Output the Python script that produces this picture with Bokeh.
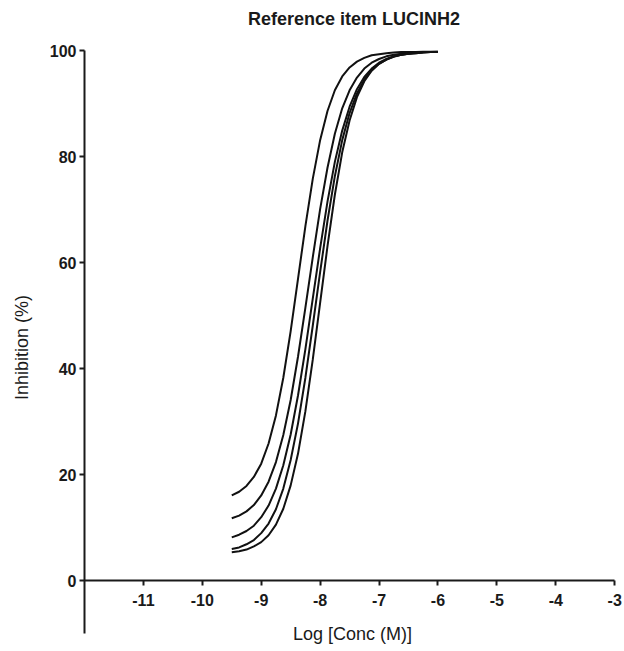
from bokeh.plotting import figure
from bokeh.models import FixedTicker, Range1d, Label, Title
from bokeh.embed import file_html
from bokeh.resources import INLINE

# ---- data ----
log_conc = [-9.5, -9.375, -9.25, -9.125, -9.0, -8.875, -8.75, -8.625, -8.5, -8.375,
            -8.25, -8.125, -8.0, -7.875, -7.75, -7.625, -7.5, -7.375, -7.25, -7.125,
            -7.0, -6.875, -6.75, -6.625, -6.5, -6.375, -6.25, -6.125, -6.0]
curve_1 = [16.1, 16.8, 17.9, 19.6, 22.1, 25.9, 31.2, 38.3, 47.1, 57.0,
           66.9, 75.8, 83.1, 88.6, 92.5, 95.1, 96.8, 97.9, 98.6, 99.1,
           99.3, 99.5, 99.6, 99.7, 99.7, 99.7, 99.8, 99.8, 99.8]
curve_2 = [11.8, 12.3, 13.1, 14.3, 16.1, 18.7, 22.4, 27.5, 34.1, 42.3,
           51.5, 61.0, 70.1, 77.9, 84.3, 89.1, 92.5, 94.9, 96.6, 97.7,
           98.4, 98.9, 99.2, 99.4, 99.6, 99.6, 99.7, 99.7, 99.8]
curve_3 = [8.2, 8.7, 9.4, 10.4, 12.0, 14.2, 17.4, 21.8, 27.6, 35.0,
           43.7, 53.2, 62.7, 71.5, 79.0, 84.9, 89.4, 92.7, 95.0, 96.6,
           97.7, 98.4, 98.9, 99.2, 99.4, 99.5, 99.6, 99.7, 99.7]
curve_4 = [6.0, 6.3, 6.9, 7.7, 9.0, 10.8, 13.5, 17.4, 22.8, 29.7,
           38.3, 48.1, 58.2, 67.9, 76.3, 83.1, 88.2, 91.9, 94.5, 96.3,
           97.5, 98.3, 98.8, 99.2, 99.4, 99.5, 99.6, 99.7, 99.7]
curve_5 = [5.4, 5.6, 5.9, 6.5, 7.3, 8.6, 10.6, 13.6, 18.0, 24.0,
           32.0, 41.7, 52.4, 63.1, 72.8, 80.8, 86.8, 91.2, 94.2, 96.2,
           97.5, 98.3, 98.9, 99.2, 99.4, 99.6, 99.7, 99.7, 99.7]
curves = [curve_1, curve_2, curve_3, curve_4, curve_5]

x_ticks = [-11, -10, -9, -8, -7, -6, -5, -4, -3]
y_ticks = [0, 20, 40, 60, 80, 100]

title_text = "Reference item LUCINH2"
x_label = "Log [Conc (M)]"
y_label = "Inhibition (%)"

FONT = "Liberation Sans"
INK = "#1a1a1a"

p = figure(width=624, height=651, output_backend="svg", toolbar_location=None,
           x_range=Range1d(-12, -2.85), y_range=Range1d(-12, 100),
           min_border_left=84, min_border_right=1, min_border_top=50,
           min_border_bottom=7)

p.background_fill_color = "white"
p.border_fill_color = "white"
p.outline_line_color = None
p.grid.visible = False

# title: a thin blank spacer next to the frame, then the real title above it
p.add_layout(Title(text=" ", text_font_size="2px", standoff=18), "above")
p.add_layout(Title(text=title_text, align="center", standoff=0,
                   text_font=FONT, text_font_size="18px",
                   text_font_style="bold", text_color=INK), "above")

# y axis
ya = p.yaxis[0]
ya.ticker = FixedTicker(ticks=y_ticks)
ya.bounds = (-10, 100)
ya.axis_line_width = 2
ya.axis_line_color = INK
ya.major_tick_line_width = 2
ya.major_tick_line_color = INK
ya.major_tick_out = 5
ya.major_tick_in = 0
ya.minor_tick_line_color = None
ya.major_label_standoff = 3
ya.major_label_text_font = FONT
ya.major_label_text_font_size = "16px"
ya.major_label_text_font_style = "bold"
ya.major_label_text_color = INK
ya.axis_label = y_label
ya.axis_label_text_font = FONT
ya.axis_label_text_font_size = "18px"
ya.axis_label_text_font_style = "normal"
ya.axis_label_text_color = INK
ya.axis_label_standoff = 15

# x axis, crossing at y = 0
xa = p.xaxis[0]
xa.fixed_location = 0
xa.bounds = (-12, -3)
xa.ticker = FixedTicker(ticks=x_ticks)
xa.major_label_overrides = {t: str(t) for t in x_ticks}
xa.axis_line_width = 2
xa.axis_line_color = INK
xa.major_tick_line_width = 2
xa.major_tick_line_color = INK
xa.major_tick_out = 5
xa.major_tick_in = 0
xa.minor_tick_line_color = None
xa.major_label_standoff = 8
xa.major_label_text_font = FONT
xa.major_label_text_font_size = "16px"
xa.major_label_text_font_style = "bold"
xa.major_label_text_color = INK

# x axis title
p.add_layout(Label(x=-7.45, y=-10, text=x_label, text_align="center",
                   text_baseline="middle", text_font=FONT,
                   text_font_size="18px", text_color=INK))

for c in curves:
    p.line(log_conc, c, line_color="#111111", line_width=2)

open("out.html", "w").write(file_html(p, INLINE))
